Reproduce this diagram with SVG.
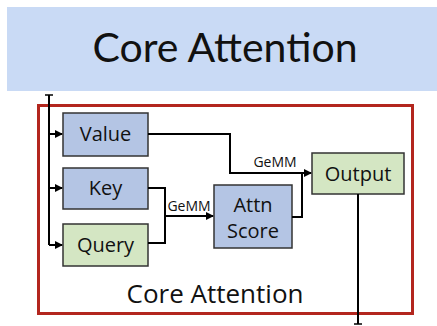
<svg xmlns="http://www.w3.org/2000/svg" width="437" height="326" viewBox="0 0 437 326">
<defs>
<marker id="ah" markerWidth="8" markerHeight="8" refX="7" refY="4" orient="auto" markerUnits="userSpaceOnUse">
<path d="M0,0 L8,4 L0,8 Z" fill="#000"/>
</marker>
<style>
.lbl{font-family:"Open Sans","Liberation Sans",sans-serif;fill:#111;text-anchor:middle}
.box{stroke:#333;stroke-width:1.5}
.blue{fill:#b4c5e4}
.green{fill:#d4e6c3}
.wire{fill:none;stroke:#000;stroke-width:2}
</style>
</defs>
<rect width="437" height="326" fill="#fff"/>
<g id="banner">
<rect x="7" y="7" width="430" height="84" fill="#c9daf5"/>
<text x="225" y="62" class="lbl" style="font-family:Lato,'Noto Sans',sans-serif;font-size:41px">Core Attention</text>
</g>
<g id="core">
<rect x="38.5" y="105.5" width="374" height="208" fill="none" stroke="#b3261e" stroke-width="3"/>
<text x="215" y="303" class="lbl" style="font-size:26px">Core Attention</text>
</g>
<g id="value"><rect class="box blue" x="63" y="113" width="85" height="43"/><text class="lbl" x="105.5" y="141" font-size="20">Value</text></g>
<g id="key"><rect class="box blue" x="63" y="168" width="85" height="41"/><text class="lbl" x="105.5" y="195" font-size="20">Key</text></g>
<g id="query"><rect class="box green" x="63" y="224" width="85" height="42"/><text class="lbl" x="105.5" y="252" font-size="20">Query</text></g>
<g id="attn"><rect class="box blue" x="214" y="185" width="78" height="63"/><text class="lbl" x="253" y="212" font-size="20">Attn</text><text class="lbl" x="253" y="238" font-size="20">Score</text></g>
<g id="output"><rect class="box green" x="312" y="153" width="92" height="41"/><text class="lbl" x="358" y="181" font-size="20">Output</text></g>
<g id="connectors">
<path class="wire" d="M49,95 V245"/>
<path d="M45,95 H53" stroke="#000" stroke-width="1.5"/>
<path class="wire" d="M49,134 H62" marker-end="url(#ah)"/>
<path class="wire" d="M49,188 H62" marker-end="url(#ah)"/>
<path class="wire" d="M49,245 H62" marker-end="url(#ah)"/>
<path class="wire" d="M148,188 H165 V243 H148"/>
<path class="wire" d="M165,216 H213" marker-end="url(#ah)"/>
<path class="wire" d="M148,134 H230 V173 H311" marker-end="url(#ah)"/>
<path class="wire" d="M292,217 H302 V173"/>
<path class="wire" d="M358,194 V324"/>
<path d="M354,324 H362" stroke="#000" stroke-width="1.5"/>
<text class="lbl" x="189" y="211" font-size="14">GeMM</text>
<text class="lbl" x="275" y="167" font-size="14">GeMM</text>
</g>
</svg>
